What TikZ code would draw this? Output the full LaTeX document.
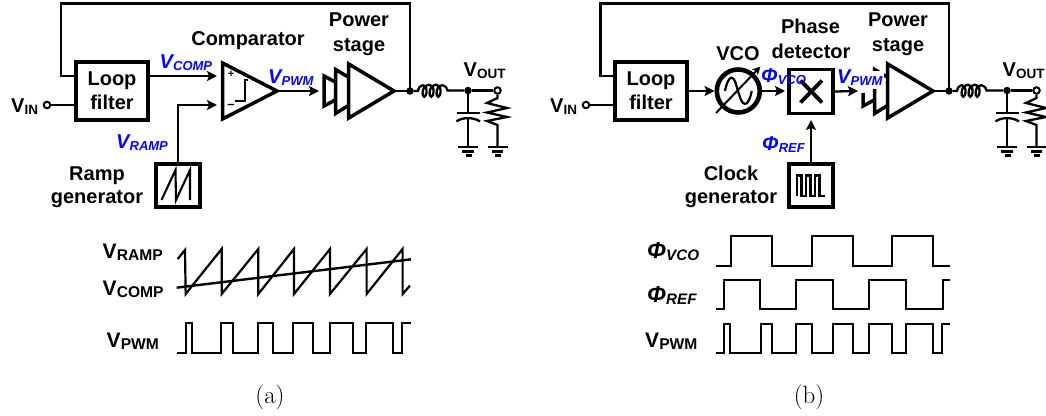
\documentclass[tikz,border=0pt]{standalone}
\usepackage{fontspec}
\setmainfont{Liberation Sans}
\newfontfamily\capfont{Latin Modern Roman}
\usetikzlibrary{arrows.meta}
\definecolor{lblue}{RGB}{5,5,245}
\newcommand{\BIG}{\fontsize{20}{20}\selectfont\bfseries}
\newcommand{\SUB}{\fontsize{13.5}{14}\selectfont\bfseries}
\newcommand{\vlab}[2]{\BIG #1\kern0.3pt\raisebox{-2pt}{\SUB #2}}
\newcommand{\wlab}[2]{\fontsize{21}{21}\selectfont\bfseries #1\kern0.3pt\raisebox{-2pt}{\fontsize{15.6}{16}\selectfont\bfseries #2}}
\newcommand{\wphi}[2]{\fontsize{23}{23}\selectfont\bfseries\itshape #1\kern0.3pt\raisebox{-2pt}{\fontsize{15.2}{16}\selectfont\bfseries\itshape #2}}
\newcommand{\blab}[2]{\BIG\itshape #1\kern0.3pt\raisebox{-2pt}{\fontsize{13}{13}\selectfont\bfseries\itshape #2}}
\tikzset{
  x=1pt,y=-1pt,
  txt/.style={inner sep=0pt,outer sep=0pt,font=\BIG,anchor=base},
  lab/.style={inner sep=0pt,outer sep=0pt,anchor=base west},
  bluelab/.style={inner sep=0pt,outer sep=0pt,anchor=base west,text=lblue},
  box/.style={draw,line width=3.8pt,inner sep=0pt,outer sep=1.9pt},
  wire/.style={line width=2.3pt},
  sig/.style={line width=2.3pt,-{Stealth[length=10pt,width=10pt,inset=2pt]}},
  tri/.style={draw,line width=3.5pt,line join=miter,fill=white},
  wave/.style={line width=2.2pt,line join=miter},
  dotn/.style={circle,fill,inner sep=0pt,minimum size=7.5pt},
  opn/.style={circle,draw,line width=2pt,fill=white,inner sep=0pt,minimum size=6.5pt},
  gndl/.style={line width=2.3pt},
}
\newcommand{\outnet}[1]{%
 \begin{scope}[xshift=#1pt]
  \node[dotn] (d1) at (410,91) {};
  \node[dotn] (d2) at (468,90.5) {};
  \node[opn] (o1) at (497.5,90.5) {};
  \draw[wire] (d1) -- (418,91)
    .. controls (419,84) and (426,83) .. (426.5,90) .. controls (427,99) and (421,99) .. (423,90)
    .. controls (425,83) and (433,83) .. (433.5,90) .. controls (434,99) and (428,99) .. (430,90)
    .. controls (432,83) and (440,83) .. (440.5,90) .. controls (441,99) and (435,99) .. (437,90)
    .. controls (439,83) and (446,84) .. (447.5,90.5) -- (d2);
  \draw[wire] (d2) -- (o1);
  \draw[wire] (d2) -- (468,113);
  \draw[wire] (456.5,113) -- (480,113);
  \draw[wire] (456.5,121.5) .. controls (462,117) and (474,117) .. (480,121.5);
  \draw[wire] (468,118.5) -- (468,146.7);
  \draw[gndl] (458,146.7) -- (478,146.7) (462,151.5) -- (474,151.5) (466,155.5) -- (472,155.5);
  \draw[wire,line join=miter] (o1) -- (497.5,98) -- (487,103) -- (507,108) -- (487,112.5) -- (507,117) -- (487,121) -- (497.5,125) -- (497.5,146.7);
  \draw[gndl] (487.5,146.7) -- (507.5,146.7) (491.5,151.5) -- (503,151.5) (495,155.5) -- (501,155.5);
  \node[lab] (vout) at (463.5,76) {\vlab{V}{OUT}};
 \end{scope}}
\begin{document}
\begin{tikzpicture}
\useasboundingbox (0,0) rectangle (1046,415);
% ---- panel a ----
\node[box,minimum width=72pt,minimum height=58pt] (lfa) at (112,91) {};
\node[txt] (lfat) at (112,85) {Loop};
\node[txt] (lfab) at (112,109) {filter};
\node[lab] (vina) at (11,112) {\vlab{V}{IN}};
\node[opn] (ia) at (47,105) {};
\draw[wire] (ia) -- (74,105);
\coordinate (fba) at (74,76);
\draw[wire,line join=miter] (410,91) -- (410,3.5) -- (61,3.5) -- (61,76) -- (fba);
\coordinate (cpi) at (217,76);
\draw[sig] (150,76) -- (cpi);
\draw[tri] (222.5,63) -- (222.5,119) -- (277,91) -- cycle;
\coordinate (cmpo) at (279,91);
\node[inner sep=0pt] (pl) at (231,74.5) {\fontsize{11}{11}\selectfont\bfseries +};
\node[inner sep=0pt] (mi) at (231,106.5) {\fontsize{13}{13}\selectfont\bfseries –};
\draw[line width=2pt,line join=miter] (235,100.7) -- (245,100.7) -- (245,79.5) -- (248,79.5);
\node[txt] (cmpt) at (248,45) {Comparator};
\node[box,minimum width=44pt,minimum height=43pt] (ra) at (178,185.5) {};
\draw[line width=2.1pt,line join=miter] (161.5,200) -- (175.5,170) -- (176,200) -- (190,170) -- (190,200);
\coordinate (cpm) at (217,105);
\draw[sig] (ra.north) |- (cpm);
\node[txt] (rat) at (97,180) {Ramp};
\node[txt] (rab) at (97,203) {generator};
\draw[tri] (324,76) -- (324,106) -- (352,91) -- cycle;
\draw[tri] (335.5,69.5) -- (335.5,113.5) -- (372,91) -- cycle;
\draw[tri] (348.7,64) -- (348.7,118) -- (394,91) -- cycle;
\draw[sig] (cmpo) -- (319,91);
\draw[wire] (394,91) -- (410,91);
\node[txt] (psat) at (359,26) {Power};
\node[txt] (psab) at (359,51) {stage};
\node[bluelab] (lc) at (159.5,68) {\blab{V}{COMP}};
\node[bluelab] (lp) at (268,83) {\blab{V}{PWM}};
\node[bluelab] (lr) at (116,148) {\blab{V}{RAMP}};
\outnet{0}
% waveforms a
\begin{scope}[shift={(90pt,-225pt)},x=0.3333pt,y=-0.3333pt]
\draw[wave] (263,102)--(285,75)--(287,207)--(395,72)--(395,207)--(505,72)--(505,207)--(612,72)--(612,207)--(720,72)--(720,207)--(830,72)--(830,207)--(938,72)--(938,207)--(960,182);
\draw[wave,line width=2.4pt] (260,188)--(963,103);
\draw[wave] (260,383)--(287,383)--(287,295)--(305,295)--(305,383)--(393,383)--(393,295)--(428,295)--(428,383)--(503,383)--(503,295)--(548,295)--(548,383)--(610,383)--(610,295)--(668,295)--(668,383)--(720,383)--(720,295)--(788,295)--(788,383)--(828,383)--(828,295)--(910,295)--(910,383)--(935,383)--(935,295)--(963,295);
\end{scope}
\node[lab] (wa1) at (102.5,258) {\wlab{V}{RAMP}};
\node[lab] (wa2) at (102.5,295) {\wlab{V}{COMP}};
\node[lab] (wa3) at (106.5,347) {\wlab{V}{PWM}};
\node[inner sep=0pt,anchor=base] (capa) at (270,403) {\capfont\fontsize{25}{25}\selectfont (a)};
% ---- panel b ----
\node[box,minimum width=72pt,minimum height=58pt] (lfb) at (651,91) {};
\node[txt] (lfbt) at (651,85) {Loop};
\node[txt] (lfbb) at (651,109) {filter};
\node[lab] (vinb) at (550,112) {\vlab{V}{IN}};
\node[opn] (ib) at (586,105) {};
\draw[wire] (ib) -- (613,105);
\coordinate (fbb) at (613,76);
\draw[wire,line join=miter] (949,91) -- (949,3.5) -- (600.5,3.5) -- (600.5,76) -- (fbb);
\node[circle,draw,line width=4.6pt,minimum size=43pt,inner sep=0pt,outer sep=2.3pt] (vco) at (738.3,91) {};
\draw[sig] (lfb.east |- vco) -- (vco.west);
\draw[line width=2.2pt] (725,91) .. controls (726.5,83) and (729,77.7) .. (731.5,77.7) .. controls (735,77.7) and (736,85) .. (738,91) .. controls (740,97) and (741.5,104) .. (745,104) .. controls (748,104) and (750.5,98) .. (751.7,91);
\node[txt] (vcot) at (738,60) {VCO};
\node[box,minimum width=44pt,minimum height=44pt] (pd) at (811,91.5) {};
\draw[line width=3.8pt] (800.5,80.5) -- (822,102.5) (822,80.5) -- (800.5,102.5);
\draw[sig] (vco.east) -- (785,91);
\node[txt] (pdt) at (810.5,33) {Phase};
\node[txt] (pdb) at (811,58) {detector};
\node[box,minimum width=44pt,minimum height=43pt] (ck) at (811,185.5) {};
\draw[line width=2.1pt,line join=miter] (797,196)--(797,175.5)--(801.5,175.5)--(801.5,196)--(806,196)--(806,175.5)--(810.5,175.5)--(810.5,196)--(815,196)--(815,175.5)--(819.5,175.5)--(819.5,196)--(825,196);
\coordinate (pdin) at (811,120);
\draw[sig] (ck.north) -- (pdin);
\node[txt] (ckt) at (731,180) {Clock};
\node[txt] (ckb) at (731,203) {generator};
\begin{scope}[xshift=539pt]
\draw[tri] (324,76) -- (324,106) -- (352,91) -- cycle;
\draw[tri] (335.5,69.5) -- (335.5,113.5) -- (372,91) -- cycle;
\draw[tri] (348.7,64) -- (348.7,118) -- (394,91) -- cycle;
\end{scope}
\coordinate (pso) at (933,91);
\draw[wire] (pso) -- (949,91);
\fill[white] (837,71) rectangle (884,88.5);
\fill[white] (855,88) rectangle (868,93);
\draw[sig] (pd.east) -- (858,91);
\node[txt] (psbt) at (898,26) {Power};
\node[txt] (psbb) at (898,51) {stage};
\node[bluelab] (lv) at (761,82) {\blab{\char"03A6}{VCO}};
\node[bluelab] (lrf) at (762,150) {\blab{\char"03A6}{REF}};
\node[bluelab] (lpb) at (837,83) {\blab{V}{PWM}};
\draw[line width=2pt,-{Stealth[length=8pt,width=8pt,inset=2pt]}] (716,113) -- (760.5,66.5);
\outnet{539}
\begin{scope}[shift={(630pt,-225pt)},x=0.3333pt,y=-0.3333pt]
\draw[wave] (258,122)--(303,122)--(303,33)--(427,33)--(427,122)--(545,122)--(545,33)--(668,33)--(668,122)--(787,122)--(787,33)--(910,33)--(910,122)--(960,122);
\draw[wave] (258,252)--(282,252)--(282,165)--(390,165)--(390,252)--(498,252)--(498,165)--(610,165)--(610,252)--(718,252)--(718,165)--(828,165)--(828,252)--(938,252)--(938,165)--(960,165);
\draw[wave] (258,383)--(282,383)--(282,296)--(300,296)--(300,383)--(392,383)--(392,296)--(425,296)--(425,383)--(498,383)--(498,296)--(545,296)--(545,383)--(610,383)--(610,296)--(668,296)--(668,383)--(718,383)--(718,296)--(787,296)--(787,383)--(828,383)--(828,296)--(910,296)--(910,383)--(935,383)--(935,296)--(960,296);
\end{scope}
\node[lab] (wb1) at (647,258) {\wphi{\char"03A6}{VCO}};
\node[lab] (wb2) at (647,302) {\wphi{\char"03A6}{REF}};
\node[lab] (wb3) at (645,347) {\wlab{V}{PWM}};
\node[inner sep=0pt,anchor=base] (capb) at (809,403) {\capfont\fontsize{25}{25}\selectfont (b)};
\end{tikzpicture}
\end{document}
